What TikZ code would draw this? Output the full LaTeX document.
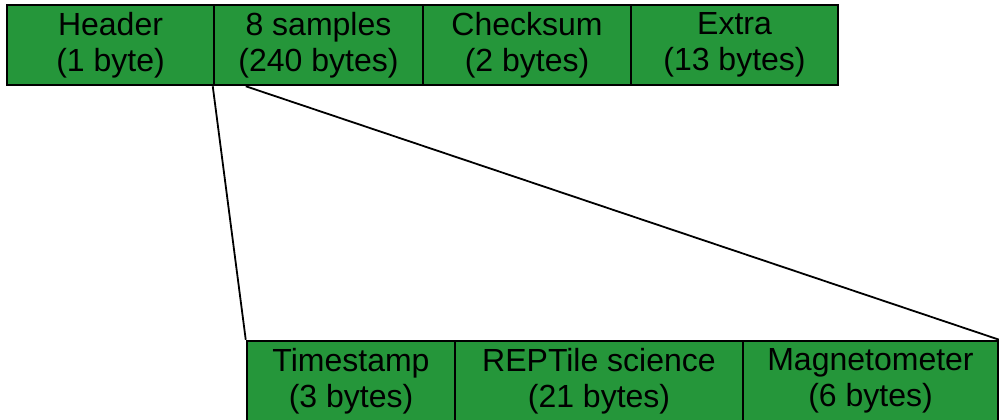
\documentclass[tikz,border=0pt]{standalone}
\usepackage{fontspec}
\setmainfont{Liberation Sans}
\definecolor{fieldgreen}{RGB}{37,150,58}
\begin{document}
\begin{tikzpicture}[x=1pt,y=-1pt,
  field/.style={draw=black, line width=2.5pt, fill=fieldgreen, rectangle,
    inner sep=0pt, minimum height=80pt, align=center,
    font=\fontsize{32}{35.5}\selectfont, text=black,
    execute at begin node={\rule{0pt}{27.4pt}}},
  zoomline/.style={draw=black, line width=1.8pt}]
\useasboundingbox (0,0) rectangle (999,420);
% packet layout
\node[field, minimum width=207pt] (hdr) at (110.5,45) {Header\\(1 byte)};
\node[field, minimum width=209pt] (smp) at (318.5,45) {8 samples\\(240 bytes)};
\node[field, minimum width=208pt] (chk) at (527,45) {Checksum\\(2 bytes)};
\node[field, minimum width=207pt] (ext) at (734.5,45) {Extra\\(13 bytes)};
% layout of one sample
\node[field, minimum width=208pt] (ts) at (351,381) {Timestamp\\(3 bytes)};
\node[field, minimum width=288pt] (rep) at (599,381) {REPTile science\\(21 bytes)};
\node[field, minimum width=255pt] (mag) at (870.5,381) {Magnetometer\\(6 bytes)};
% expansion lines
\coordinate (smpcut) at ([xshift=33pt]smp.south west);
\draw[zoomline] (smp.south west) -- (ts.north west);
\draw[zoomline] (smpcut) -- (mag.north east);
\end{tikzpicture}
\end{document}
